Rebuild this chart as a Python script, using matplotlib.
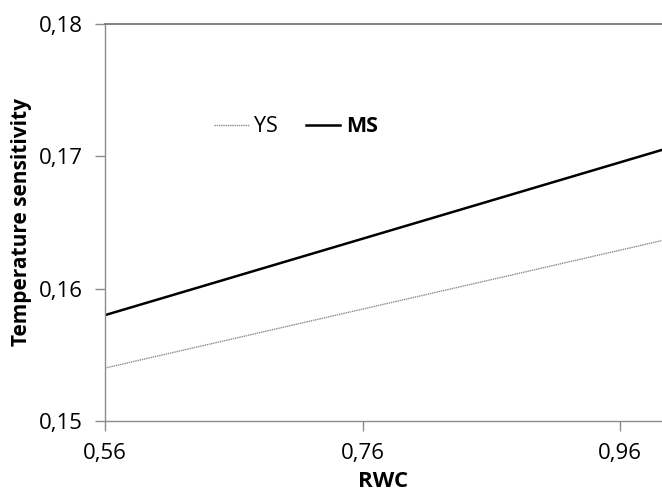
import matplotlib.pyplot as plt

# regression lines (end points)
rwc = [0.56, 1.0]
ys = [0.1540, 0.1638]
ms = [0.1580, 0.1707]

xticks = [0.56, 0.76, 0.96]
xtick_labels = ['0,56', '0,76', '0,96']
yticks = [0.15, 0.16, 0.17, 0.18]
ytick_labels = ['0,15', '0,16', '0,17', '0,18']

plt.rcParams['font.family'] = ['Open Sans', 'DejaVu Sans']

fig = plt.figure(figsize=(6.62, 4.96), dpi=100)
ax = fig.add_axes([105 / 662, 1 - 421 / 496, 1 - 105 / 662, (421 - 24) / 496])

ax.plot(rwc, ys, color='#8a8a8a', lw=1.0, ls=(0, (1, 0.6)), label='YS')
ax.plot(rwc, ms, color='black', lw=1.8, label='MS')

ax.set_xlim(0.56, 0.9926)
ax.set_ylim(0.15, 0.18)
ax.set_xticks(xticks)
ax.set_xticklabels(xtick_labels)
ax.set_yticks(yticks)
ax.set_yticklabels(ytick_labels)

grey = '#8c8c8c'
for side in ['left', 'bottom']:
    ax.spines[side].set_color(grey)
    ax.spines[side].set_linewidth(1.0)
ax.spines['top'].set_color('#777777')
ax.spines['top'].set_linewidth(1.3)
ax.spines['right'].set_visible(False)

ax.tick_params(axis='both', colors=grey, length=7, width=1.0, labelcolor='black',
               labelsize=16)
ax.tick_params(axis='x', pad=9)
ax.tick_params(axis='y', pad=9)

ax.set_xlabel('RWC', fontsize=16, fontweight='bold', labelpad=5)
ax.set_ylabel('Temperature sensitivity', fontsize=15, fontweight='bold', labelpad=5)

# legend centred around x ~ 296 px, y ~ 127 px
leg = ax.legend(loc='center', bbox_to_anchor=((296 - 105) / 557, (421 - 127) / 397),
                ncol=2, frameon=False, fontsize=15.5, handlelength=1.6,
                columnspacing=1.3, handletextpad=0.25)
leg.get_texts()[1].set_fontweight('bold')

fig.savefig('out.png', dpi=100)
